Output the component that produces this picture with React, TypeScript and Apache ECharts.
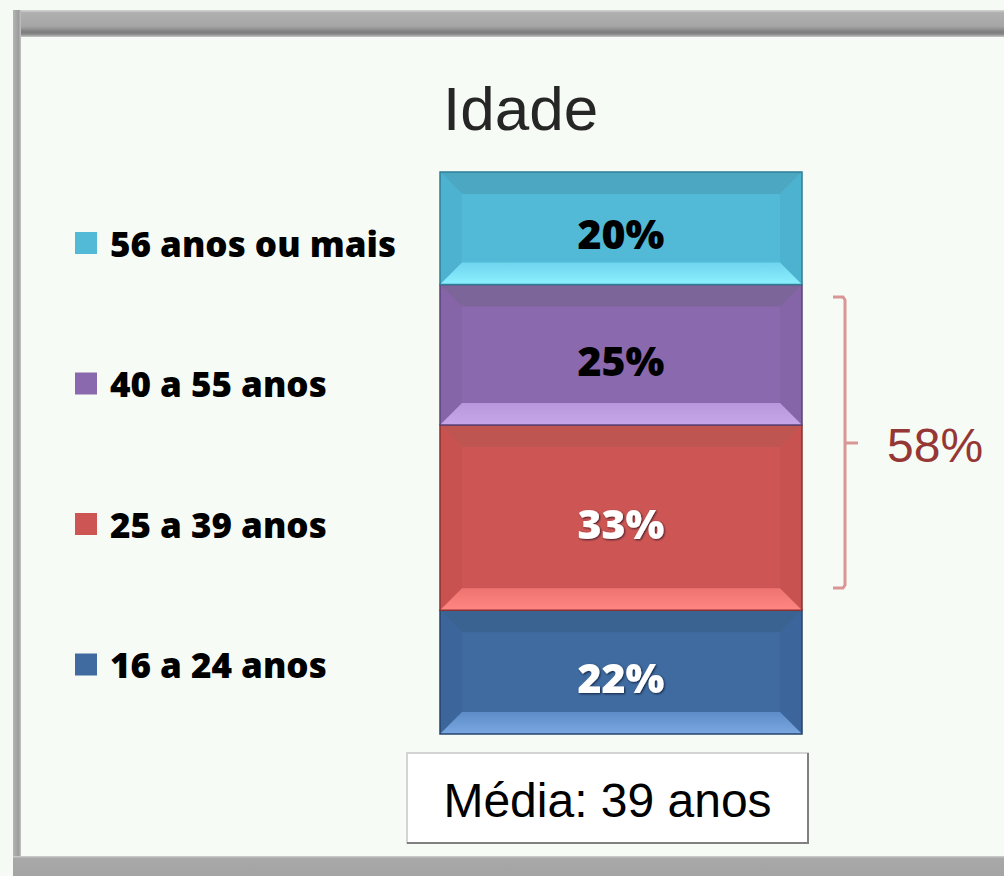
import React, { useEffect, useRef } from 'react';
import * as echarts from 'echarts';

// ---- data ----
const categories = ['Idade'];
// stacked bottom to top
const groups = ['16 a 24 anos', '25 a 39 anos', '40 a 55 anos', '56 anos ou mais'];
const values = [22, 33, 25, 20];
const legendOrder = ['56 anos ou mais', '40 a 55 anos', '25 a 39 anos', '16 a 24 anos'];
const chartTitle = 'Idade';
const bracketLabel = '58%';
const meanLabel = 'Média: 39 anos';

// ---- styles ----
const faceColors = ['#3f6ba0', '#cd5654', '#8a69ae', '#52b9d6'];
const topColors = ['#3a6391', '#bf5551', '#7c6599', '#4ba7c2'];
const sideColors = ['#3c669b', '#c8524f', '#8565a8', '#4db2cf'];
const bottomFrom = ['#5d8cc8', '#ef7471', '#b997dc', '#6fd5ee'];
const bottomTo = ['#7aa7e0', '#ff8683', '#c6a6e8', '#8cf0ff'];
const outlineColors = ['#23446c', '#8c3030', '#5a4377', '#2e7f96'];
const labelColors = ['#ffffff', '#ffffff', '#000000', '#000000'];

export default function App() {
  const ref = useRef<HTMLDivElement>(null);

  useEffect(() => {
    if (!ref.current) return;
    const chart = echarts.init(ref.current, null, { renderer: 'svg' });

    const bases: number[] = [];
    let acc = 0;
    values.forEach((v) => {
      bases.push(acc);
      acc += v;
    });

    const series = groups.map((name, i) => ({
      name,
      type: 'custom',
      itemStyle: { color: faceColors[i] },
      encode: { x: 0, y: [1, 2] },
      data: [[0, bases[i], bases[i] + values[i]]],
      renderItem: (params: any, api: any) => {
        const cat = api.value(0);
        const start = api.value(1);
        const end = api.value(2);
        const pb = api.coord([cat, start]);
        const pt = api.coord([cat, end]);
        const w = api.size([1, 0])[0];
        const x0 = pb[0] - w / 2;
        const x1 = pb[0] + w / 2;
        const yT = pt[1];
        const yB = pb[1];
        const d = 22;
        const white = labelColors[i] === '#ffffff';
        return {
          type: 'group',
          children: [
            { type: 'rect', shape: { x: x0, y: yT, width: w, height: yB - yT }, style: { fill: faceColors[i] } },
            {
              type: 'polygon',
              shape: { points: [[x0, yT], [x1, yT], [x1 - d, yT + d], [x0 + d, yT + d]] },
              style: { fill: topColors[i] },
            },
            {
              type: 'polygon',
              shape: { points: [[x0, yT], [x0 + d, yT + d], [x0 + d, yB - d], [x0, yB]] },
              style: { fill: sideColors[i] },
            },
            {
              type: 'polygon',
              shape: { points: [[x1, yT], [x1 - d, yT + d], [x1 - d, yB - d], [x1, yB]] },
              style: { fill: sideColors[i] },
            },
            {
              type: 'polygon',
              shape: { points: [[x0, yB], [x1, yB], [x1 - d, yB - d], [x0 + d, yB - d]] },
              style: {
                fill: new echarts.graphic.LinearGradient(0, 0, 0, 1, [
                  { offset: 0, color: bottomFrom[i] },
                  { offset: 1, color: bottomTo[i] },
                ]),
              },
            },
            {
              type: 'rect',
              shape: { x: x0, y: yT, width: w, height: yB - yT },
              style: { fill: 'none', stroke: outlineColors[i], lineWidth: 1.5 },
            },
            {
              type: 'text',
              x: pb[0],
              y: (yT + yB) / 2 + 5,
              style: {
                text: values[i] + '%',
                textAlign: 'center',
                textVerticalAlign: 'middle',
                align: 'center',
                verticalAlign: 'middle',
                fontFamily: 'Open Sans',
                fontWeight: 800,
                fontSize: 41,
                fill: labelColors[i],
                textShadowColor: white ? 'rgba(0,0,30,0.7)' : 'transparent',
                textShadowBlur: white ? 2 : 0,
                textShadowOffsetX: 1,
                textShadowOffsetY: 1,
              },
            },
          ],
        };
      },
    }));

    chart.setOption({
      animation: false,
      backgroundColor: '#f6faf4',
      title: {
        text: chartTitle,
        left: 443,
        top: 77,
        padding: 0,
        textStyle: { fontFamily: 'Liberation Sans', fontWeight: 'normal', fontSize: 62, color: '#262626' },
      },
      legend: {
        orient: 'vertical',
        left: 75,
        top: 223,
        padding: 0,
        itemWidth: 22,
        itemHeight: 22,
        itemGap: 100.5,
        icon: 'rect',
        selectedMode: false,
        data: legendOrder,
        textStyle: {
          fontFamily: 'Open Sans',
          fontWeight: 800,
          fontSize: 35,
          color: '#000000',
          lineHeight: 40,
          padding: [0, 0, 0, 8],
        },
      },
      grid: { left: 440, right: 202, top: 172, bottom: 142 },
      xAxis: { type: 'category', data: categories, show: false },
      yAxis: { type: 'value', min: 0, max: 100, show: false },
      graphic: [
        { type: 'rect', z: -10, shape: { x: 21, y: 37, width: 983, height: 819 }, style: { fill: '#f7fbf5' } },
        {
          type: 'rect',
          z: -5,
          shape: { x: 13, y: 10, width: 991, height: 27 },
          style: {
            fill: new echarts.graphic.LinearGradient(0, 0, 0, 1, [
              { offset: 0, color: '#d8d8d8' },
              { offset: 0.1, color: '#b0b0b0' },
              { offset: 0.6, color: '#a6a6a6' },
              { offset: 0.82, color: '#7c7c7c' },
              { offset: 0.9, color: '#8a8a8a' },
              { offset: 1, color: '#c8c8c8' },
            ]),
          },
        },
        {
          type: 'rect',
          z: -5,
          shape: { x: 13, y: 10, width: 8, height: 866 },
          style: {
            fill: new echarts.graphic.LinearGradient(0, 0, 1, 0, [
              { offset: 0, color: '#b4b4b4' },
              { offset: 0.7, color: '#9c9c9c' },
              { offset: 1, color: '#c4c4c4' },
            ]),
          },
        },
        {
          type: 'rect',
          z: -5,
          shape: { x: 13, y: 856, width: 991, height: 20 },
          style: {
            fill: new echarts.graphic.LinearGradient(0, 0, 0, 1, [
              { offset: 0, color: '#d0d0d0' },
              { offset: 0.12, color: '#a8a8a8' },
              { offset: 1, color: '#a4a4a4' },
            ]),
          },
        },
        // bracket
        {
          type: 'polyline',
          shape: { points: [[833, 297], [843, 297], [845, 300], [845, 585], [843, 588], [833, 588]] },
          style: { stroke: '#d99694', lineWidth: 3, fill: 'none' },
        },
        {
          type: 'line',
          shape: { x1: 845, y1: 443, x2: 858, y2: 443 },
          style: { stroke: '#d99694', lineWidth: 3 },
        },
        {
          type: 'text',
          x: 887,
          y: 445,
          style: {
            text: bracketLabel,
            textAlign: 'left',
            textVerticalAlign: 'middle',
            align: 'left',
            verticalAlign: 'middle',
            fontFamily: 'Liberation Sans',
            fontSize: 48,
            fill: '#953735',
          },
        },
        // mean box
        {
          type: 'rect',
          shape: { x: 407, y: 753, width: 401, height: 90 },
          style: { fill: '#ffffff', stroke: '#d4d4d4', lineWidth: 2 },
        },
        {
          type: 'polyline',
          shape: { points: [[808, 753], [808, 843], [407, 843]] },
          style: { stroke: '#808080', lineWidth: 2, fill: 'none' },
        },
        {
          type: 'text',
          x: 607.5,
          y: 800,
          style: {
            text: meanLabel,
            textAlign: 'center',
            textVerticalAlign: 'middle',
            align: 'center',
            verticalAlign: 'middle',
            fontFamily: 'Liberation Sans',
            fontSize: 48,
            fill: '#000000',
          },
        },
      ],
      series,
    });

    return () => chart.dispose();
  }, []);

  return <div ref={ref} style={{ position: 'fixed', left: 0, top: 0, width: 1004, height: 876 }} />;
}
